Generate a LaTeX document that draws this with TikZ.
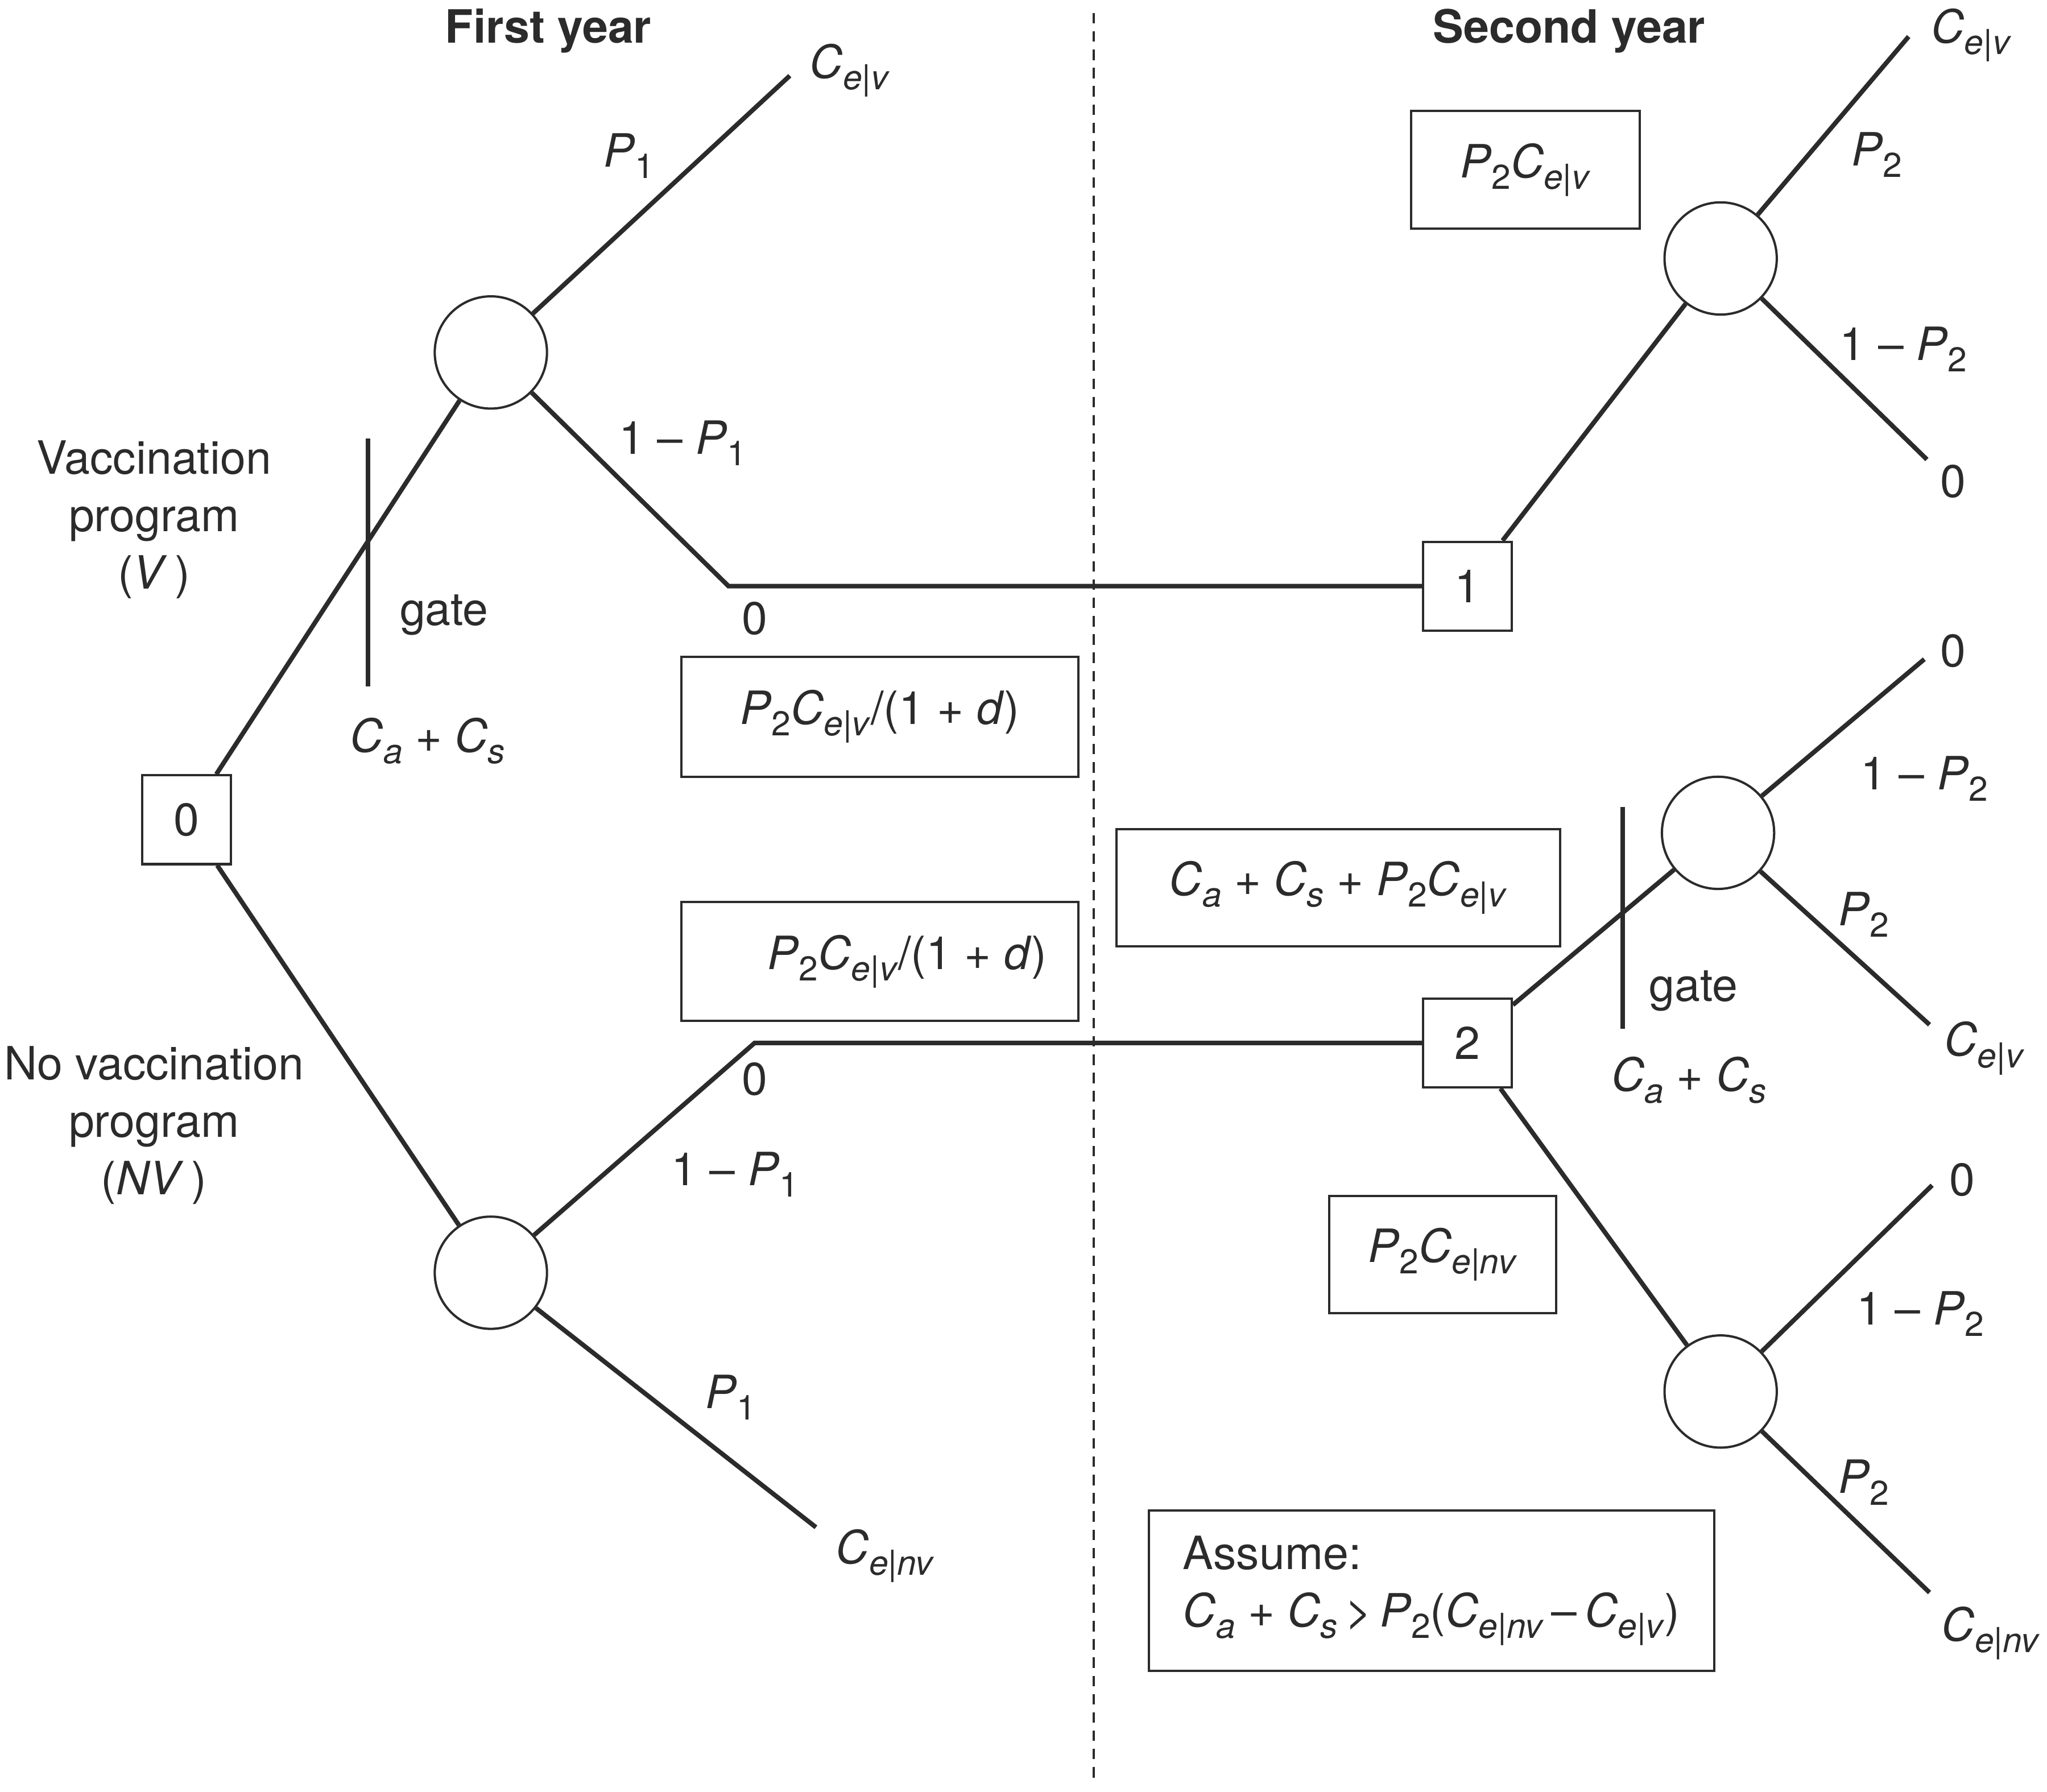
\documentclass[tikz,border=0pt]{standalone}
\usepackage{fontspec}
\setmainfont{TeX Gyre Heros}
\usetikzlibrary{positioning}
\definecolor{ink}{HTML}{2B2B2B}
% lowered subscripts as in the figure
\newcommand{\lowsub}[1]{\raisebox{-5pt}{\fontsize{15}{15}\selectfont #1}}
\newcommand{\Cev}{\textit{C}\lowsub{\textit{e}|\textit{v}}}
\newcommand{\Cenv}{\textit{C}\lowsub{\textit{e}|\textit{nv}}}
\newcommand{\Pone}{\textit{P}\lowsub{1}}
\newcommand{\Ptwo}{\textit{P}\lowsub{2}}
\newcommand{\Ca}{\textit{C}\lowsub{\textit{a}}}
\newcommand{\Cs}{\textit{C}\lowsub{\textit{s}}}
\begin{document}
\begin{tikzpicture}[x=0.02cm, y=-0.02cm, color=ink, font=\fontsize{20}{25}\selectfont,
  branch/.style={draw=ink, line width=2pt},
  decision/.style={draw=ink, line width=1pt, minimum size=1.36cm, inner sep=0},
  chance/.style={circle, draw=ink, line width=1pt, minimum size=1.72cm, inner sep=0},
  costbox/.style={draw=ink, line width=1pt, inner sep=0},
  lbl/.style={anchor=base west, inner sep=0},
  num/.style={anchor=base, inner sep=0}]
\useasboundingbox (0,0) rectangle (1568,1372.4);

% Year headings and the dividing line
\node[anchor=base, font=\fontsize{20}{25}\selectfont\bfseries] (first) at (420,33) {First year};
\node[anchor=base, font=\fontsize{20}{25}\selectfont\bfseries] (second) at (1202,33) {Second year};
\draw[line width=1pt, dash pattern=on 0.16cm off 0.12cm] (838,10) -- (838,1362);

% Decision and chance nodes
\node[decision] (sq0) at (143,628) {0};
\node[decision] (sq1) at (1124,449) {1};
\node[decision] (sq2) at (1124,799) {2};
\node[chance] (cV) at (376,270) {};
\node[chance] (cNV) at (376,975) {};
\node[chance] (cOne) at (1318,198) {};
\node[chance] (cTwoA) at (1316,638) {};
\node[chance] (cTwoB) at (1318,1066) {};

% Free branch ends
\coordinate (vEnd) at (605,58);
\coordinate (vBend) at (558,449);
\coordinate (nvBend) at (578,799);
\coordinate (nvEnd) at (625,1170);
\coordinate (oneUp) at (1462,28);
\coordinate (oneDown) at (1476,352);
\coordinate (twoAUp) at (1474,505);
\coordinate (twoADown) at (1478,785);
\coordinate (twoBUp) at (1480,908);
\coordinate (twoBDown) at (1478,1220);

% Branches
\draw[branch] (sq0) -- (cV);
\draw[branch] (sq0) -- (cNV);
\draw[branch] (cV) -- (vEnd);
\draw[branch] (cV) -- (vBend) -- (sq1);
\draw[branch] (cNV) -- (nvBend) -- (sq2);
\draw[branch] (cNV) -- (nvEnd);
\draw[branch] (sq1) -- (cOne);
\draw[branch] (cOne) -- (oneUp);
\draw[branch] (cOne) -- (oneDown);
\draw[branch] (sq2) -- (cTwoA);
\draw[branch] (cTwoA) -- (twoAUp);
\draw[branch] (cTwoA) -- (twoADown);
\draw[branch] (sq2) -- (cTwoB);
\draw[branch] (cTwoB) -- (twoBUp);
\draw[branch] (cTwoB) -- (twoBDown);

% Gates
\draw[branch] (282,336) -- (282,526);
\draw[branch] (1243,618) -- (1243,788);

% Labels of the first year
\node[align=center] (vac) at (118,398) {Vaccination\\program\\(\textit{V}\,)};
\node[align=center] (novac) at (118,862) {No vaccination\\program\\(\textit{NV}\,)};
\node[lbl] (lvEnd) at (620,60) {\Cev};
\node[lbl] (lvP) at (462,128) {\Pone};
\node[lbl] (lvQ) at (474,348) {1 – \Pone};
\node[num] (lvZero) at (578,486) {0};
\node[lbl] (lgateV) at (306,479) {gate};
\node[lbl] (lcostV) at (268,576) {\Ca\ + \Cs};
\node[num] (lnvZero) at (578,839) {0};
\node[lbl] (lnvQ) at (514,908) {1 – \Pone};
\node[lbl] (lnvP) at (540,1079) {\Pone};
\node[lbl] (lnvEnd) at (640,1198) {\Cenv};

% Labels of the second year
\node[lbl] (loneEnd) at (1479,33) {\Cev};
\node[lbl] (loneP) at (1418,127) {\Ptwo};
\node[lbl] (loneQ) at (1409,276) {1 – \Ptwo};
\node[num] (loneZero) at (1496,381) {0};
\node[num] (ltwoAZero) at (1496,511) {0};
\node[lbl] (ltwoAQ) at (1425,605) {1 – \Ptwo};
\node[lbl] (ltwoAP) at (1408,709) {\Ptwo};
\node[lbl] (ltwoAEnd) at (1489,809) {\Cev};
\node[lbl] (lgateTwo) at (1263,767) {gate};
\node[lbl] (lcostTwo) at (1234,836) {\Ca\ + \Cs};
\node[num] (ltwoBZero) at (1503,916) {0};
\node[lbl] (ltwoBQ) at (1422,1015) {1 – \Ptwo};
\node[lbl] (ltwoBP) at (1408,1144) {\Ptwo};
\node[lbl] (ltwoBEnd) at (1487,1257) {\Cenv};

% Cost boxes
\node[costbox, minimum width=6.08cm, minimum height=1.84cm] (boxA) at (674,549) {\Ptwo\Cev/(1 + \textit{d})};
\node[costbox, minimum width=6.08cm, minimum height=1.82cm] (boxB) at (674,736.5) {\hspace*{0.84cm}\Ptwo\Cev/(1 + \textit{d})};
\node[costbox, minimum width=6.8cm, minimum height=1.8cm] (boxC) at (1025,680) {\Ca\ + \Cs\ + \Ptwo\Cev};
\node[costbox, minimum width=3.5cm, minimum height=1.8cm] (boxD) at (1168.5,130) {\Ptwo\Cev};
\node[costbox, minimum width=3.48cm, minimum height=1.8cm] (boxE) at (1105,961) {\Ptwo\Cenv};
\node[costbox, minimum width=8.66cm, minimum height=2.46cm, align=left] (boxF) at (1096.5,1218.5) {Assume:\\\Ca\ + \Cs\,>\,\Ptwo(\Cenv\,–\,\Cev)};
\end{tikzpicture}
\end{document}
